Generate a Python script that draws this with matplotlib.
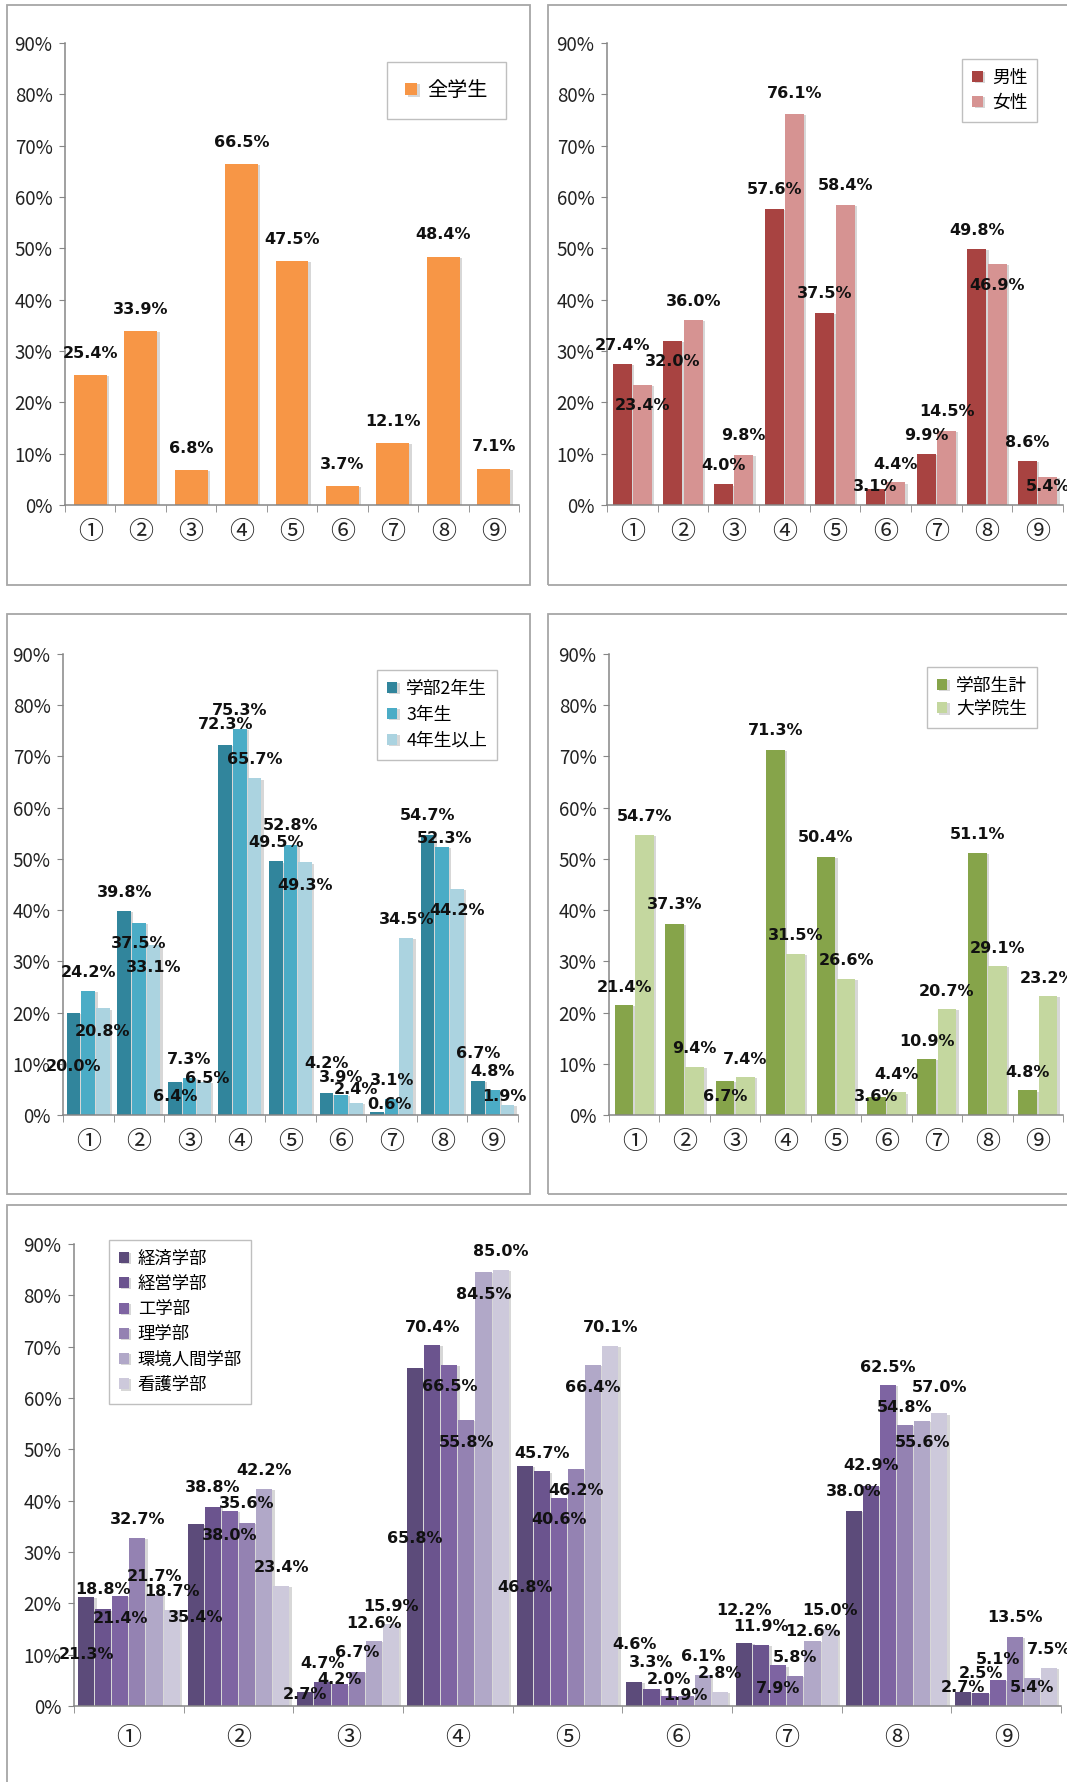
import matplotlib.pyplot as plt
import matplotlib.patheffects as pe
from matplotlib.patches import Rectangle
import numpy as np

plt.rcParams['font.family'] = ['Noto Sans CJK JP', 'DejaVu Sans']

categories = ['①', '②', '③', '④', '⑤', '⑥', '⑦', '⑧', '⑨']

# 全学生
all_students = [25.4, 33.9, 6.8, 66.5, 47.5, 3.7, 12.1, 48.4, 7.1]

# 男女別
male = [27.4, 32.0, 4.0, 57.6, 37.5, 3.1, 9.9, 49.8, 8.6]
female = [23.4, 36.0, 9.8, 76.1, 58.4, 4.4, 14.5, 46.9, 5.4]

# 学年別
year2 = [20.0, 39.8, 6.4, 72.3, 49.5, 4.2, 0.6, 54.7, 6.7]
year3 = [24.2, 37.5, 7.3, 75.3, 52.8, 3.9, 3.1, 52.3, 4.8]
year4 = [20.8, 33.1, 6.5, 65.7, 49.3, 2.4, 34.5, 44.2, 1.9]

# 学部生・大学院生
undergrad = [21.4, 37.3, 6.7, 71.3, 50.4, 3.6, 10.9, 51.1, 4.8]
graduate = [54.7, 9.4, 7.4, 31.5, 26.6, 4.4, 20.7, 29.1, 23.2]

# 学部別
economics = [21.3, 35.4, 2.7, 65.8, 46.8, 4.6, 12.2, 38.0, 2.7]
management = [18.8, 38.8, 4.7, 70.4, 45.7, 3.3, 11.9, 42.9, 2.5]
engineering = [21.4, 38.0, 4.2, 66.5, 40.6, 2.0, 7.9, 62.5, 5.1]
science = [32.7, 35.6, 6.7, 55.8, 46.2, 1.9, 5.8, 54.8, 13.5]
environment = [21.7, 42.2, 12.6, 84.5, 66.4, 6.1, 12.6, 55.6, 5.4]
nursing = [18.7, 23.4, 15.9, 85.0, 70.1, 2.8, 15.0, 57.0, 7.5]

# where each data label sits relative to its bar top (in % points), as in the original
dy_all = [[4.2] * 9]
dy_gender = [[3.6, -4.1, 3.7, 3.8, 3.7, 0.6, 3.7, 3.6, 3.6],
             [-4.1, 3.7, 3.8, 4.0, 3.8, 3.5, 3.7, -4.2, -1.7]]
dy_year = [[-10.5, 3.7, -2.7, 3.9, 3.7, 5.9, 1.4, 3.8, 5.4],
           [3.7, -4.1, 3.6, 3.7, 3.8, 3.4, 3.7, 1.6, 3.6],
           [-4.5, -4.3, 0.6, 3.8, -4.4, 2.5, 3.6, -4.2, 1.8]]
dx_year = {(2, 2): 0.07, (0, 6): 0.24, (1, 7): 0.05, (2, 8): -0.05}
dy_level = [[3.5, 3.7, -3.0, 3.8, 3.7, 0.1, 3.4, 3.6, 3.5],
            [3.6, 3.5, 3.4, 3.6, 3.6, 3.5, 3.4, 3.5, 3.4]]
dy_faculty = [[-11.2, -18.2, -0.4, -33.1, -23.8, 7.3, 6.5, 3.7, 0.9],
              [3.9, 3.8, 3.6, 3.4, 3.5, 5.1, 3.6, 4.0, 3.8],
              [-4.3, -4.8, 1.0, -4.3, -4.3, 3.2, -4.4, 3.5, 4.0],
              [3.6, 3.8, 3.7, -4.4, -4.3, 0.2, 3.7, 3.4, 3.7],
              [3.6, 3.7, 3.5, -4.3, -4.3, 3.6, 1.9, -4.3, -1.8],
              [3.6, 3.5, 3.5, 3.6, 3.6, 3.6, 3.7, 5.1, 3.6]]

W, H = 1067, 1782
fig = plt.figure(figsize=(W / 100, H / 100), dpi=100)
AXIS_GRAY = '#868686'


def add_box(x0, y0, x1, y1):
    fig.patches.append(Rectangle((x0 / W, 1 - y1 / H), (x1 - x0) / W, (y1 - y0) / H,
                                 transform=fig.transFigure, fill=False,
                                 ec='#a6a6a6', lw=1.3))


def make_axes(left, right, base, top):
    return fig.add_axes([left / W, 1 - base / H, (right - left) / W, (base - top) / H])


def draw_panel(ax, series, names, colors, step, width, dys, legend_at,
               legend_loc='upper right', dxs=None, xlabel_pad=10, legend_pad=0.55,
               legend_size=12.8, legend_gap=0.4):
    x = np.arange(len(categories))
    n = len(series)
    shadow = [pe.SimplePatchShadow(offset=(1.8, -0.8), shadow_rgbFace='#b0b0b0', alpha=0.5),
              pe.Normal()]
    for k, (vals, name, col) in enumerate(zip(series, names, colors)):
        off = (k - (n - 1) / 2) * step
        bars = ax.bar(x + off, vals, width, color=col, label=name, zorder=2)
        for b in bars:
            b.set_path_effects(shadow)
        for i, v in enumerate(vals):
            dx = (dxs or {}).get((k, i), 0)
            ax.text(x[i] + off + dx, v + dys[k][i], f'{v:.1f}%', ha='center', va='center',
                    family='DejaVu Sans', fontweight='bold', fontsize=11.5,
                    color='#111111', zorder=5)
    ax.set_xlim(-0.5, len(categories) - 0.5)
    ax.set_ylim(0, 90)
    ax.set_yticks(range(0, 91, 10))
    ax.set_yticklabels([f'{t}%' for t in range(0, 91, 10)])
    ax.set_xticks(x)
    ax.set_xticklabels(categories)
    ax.set_xticks(np.arange(-0.5, len(categories)), minor=True)
    ax.tick_params(axis='x', which='major', length=0, pad=xlabel_pad, labelsize=18,
                   labelcolor='#222222')
    ax.tick_params(axis='x', which='minor', length=5, color=AXIS_GRAY, direction='out')
    ax.tick_params(axis='y', length=4, color=AXIS_GRAY, pad=5, labelsize=13.5,
                   labelcolor='#222222')
    for s in ('top', 'right'):
        ax.spines[s].set_visible(False)
    for s in ('left', 'bottom'):
        ax.spines[s].set_color(AXIS_GRAY)
        ax.spines[s].set_linewidth(1.1)
    ax.set_facecolor('none')
    leg = ax.legend(loc=legend_loc, bbox_to_anchor=(legend_at[0] / W, 1 - legend_at[1] / H),
                    bbox_transform=fig.transFigure, fontsize=legend_size, fancybox=False,
                    edgecolor='#bfbfbf', framealpha=1, handlelength=0.6, handleheight=0.6,
                    handletextpad=0.5, borderpad=legend_pad, labelspacing=legend_gap,
                    borderaxespad=0)
    leg.get_frame().set_linewidth(1.0)
    return leg


# panel frames
add_box(7, 5, 530, 585)
add_box(548, 5, 1075, 585)
add_box(7, 614, 530, 1194)
add_box(548, 614, 1075, 1194)
add_box(7, 1205, 1075, 1790)

ax1 = make_axes(65, 519, 505, 43)
draw_panel(ax1, [all_students], ['全学生'], ['#F79646'], 0, 0.65, dy_all,
           (506, 62), legend_pad=0.9, legend_size=14.5)

ax2 = make_axes(607, 1063, 505, 43)
draw_panel(ax2, [male, female], ['男性', '女性'], ['#A84341', '#D69392'], 0.4, 0.37,
           dy_gender, (1037, 59))

ax3 = make_axes(63, 518, 1115, 654)
draw_panel(ax3, [year2, year3, year4], ['学部2年生', '3年生', '4年生以上'],
           ['#31859C', '#4BACC6', '#ABD3E0'], 0.29, 0.27, dy_year, (497, 670),
           dxs=dx_year, legend_gap=0.45)

ax4 = make_axes(609, 1063, 1115, 654)
draw_panel(ax4, [undergrad, graduate], ['学部生計', '大学院生'], ['#86A44A', '#C4D79F'],
           0.4, 0.37, dy_level, (1037, 667), legend_gap=0.3)

ax5 = make_axes(74, 1061, 1706, 1244)
draw_panel(ax5, [economics, management, engineering, science, environment, nursing],
           ['経済学部', '経営学部', '工学部', '理学部', '環境人間学部', '看護学部'],
           ['#5C4B7A', '#6B548E', '#7E64A2', '#9482B2', '#B1A8C8', '#CDC9DB'],
           0.156, 0.146, dy_faculty, (109, 1240), legend_loc='upper left',
           xlabel_pad=14, legend_size=12.5, legend_gap=0.42)

fig.savefig('out.png', dpi=100)
